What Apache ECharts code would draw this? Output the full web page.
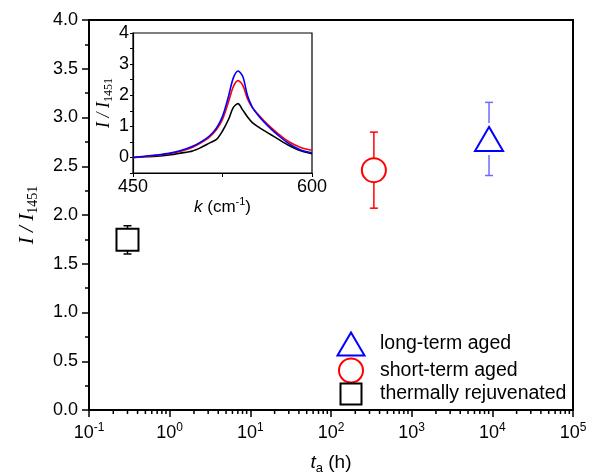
<!DOCTYPE html>
<html>
<head>
<meta charset="utf-8">
<script src="https://cdn.jsdelivr.net/npm/echarts@6/dist/echarts.min.js"></script>
<style>
  html, body { margin: 0; padding: 0; background: #fff; }
  #chart { width: 593px; height: 476px; }
</style>
</head>
<body>
<div id="chart"></div>
<script>
// Peak intensity ratio vs. aging time (main panel)
const seriesNames = ['long-term aged', 'short-term aged', 'thermally rejuvenated'];
const agingTime = [9100, 340, 0.3];          // t_a (h)
const ratioMean = [2.78, 2.46, 1.745];       // I / I_1451
const ratioError = [0.375, 0.39, 0.145];
const seriesColors = ['#0000ff', '#ff0000', '#000000'];
const errorBarColors = ['#6b6bff', '#ff0000', '#000000'];
const markerSymbols = ['triangle', 'circle', 'rect'];
const markerSizes = [[28, 24], 24, 22];
const errorGaps = [16, 12, 11];

const xTickExponents = [-1, 0, 1, 2, 3, 4, 5];
const yTickLabels = ['0.0', '0.5', '1.0', '1.5', '2.0', '2.5', '3.0', '3.5', '4.0'];

// Inset: spectra around the peak
const wavenumber = [450, 460, 470, 480, 490, 500, 507, 514, 520, 525, 530, 534, 538, 542, 546, 550, 555, 560, 566, 572, 580, 590, 600];
const spectrumLong = [0.0, 0.04, 0.08, 0.13, 0.22, 0.36, 0.5, 0.69, 0.95, 1.32, 1.96, 2.55, 2.78, 2.6, 1.98, 1.62, 1.35, 1.13, 0.9, 0.7, 0.46, 0.25, 0.15];
const spectrumShort = [0.0, 0.03, 0.07, 0.12, 0.2, 0.33, 0.47, 0.65, 0.9, 1.22, 1.78, 2.27, 2.47, 2.32, 1.88, 1.6, 1.38, 1.17, 0.95, 0.75, 0.52, 0.33, 0.23];
const spectrumRejuv = [0.0, 0.02, 0.04, 0.08, 0.14, 0.21, 0.32, 0.46, 0.58, 0.85, 1.22, 1.6, 1.73, 1.52, 1.3, 1.12, 0.98, 0.86, 0.72, 0.58, 0.4, 0.22, 0.12];

const sansFont = '"Liberation Sans", Arial, sans-serif';
const serifFont = '"Liberation Serif", "Times New Roman", serif';

// minor tick positions on the log axis: 2..9 x 10^k
const minorLogTicks = [];
for (let e = xTickExponents[0]; e < xTickExponents[xTickExponents.length - 1]; e++) {
  for (let m = 2; m <= 9; m++) minorLogTicks.push([m * Math.pow(10, e), 0]);
}

function errorBarRenderer(gap, color) {
  return function (params, api) {
    const x = api.value(0), y = api.value(1), e = api.value(2);
    const c = api.coord([x, y]);
    const hi = api.coord([x, y + e]);
    const lo = api.coord([x, y - e]);
    const cap = 4;
    const style = { stroke: color, lineWidth: 1.5 };
    return {
      type: 'group',
      children: [
        { type: 'line', shape: { x1: c[0], y1: hi[1], x2: c[0], y2: c[1] - gap }, style: style },
        { type: 'line', shape: { x1: c[0], y1: c[1] + gap, x2: c[0], y2: lo[1] }, style: style },
        { type: 'line', shape: { x1: c[0] - cap, y1: hi[1], x2: c[0] + cap, y2: hi[1] }, style: style },
        { type: 'line', shape: { x1: c[0] - cap, y1: lo[1], x2: c[0] + cap, y2: lo[1] }, style: style }
      ]
    };
  };
}

const series = [];
seriesNames.forEach(function (name, i) {
  series.push({
    name: name + ' error',
    type: 'custom',
    xAxisIndex: 0, yAxisIndex: 0,
    data: [[agingTime[i], ratioMean[i], ratioError[i]]],
    encode: { x: 0, y: 1 },
    renderItem: errorBarRenderer(errorGaps[i], errorBarColors[i]),
    silent: true,
    z: 3
  });
  series.push({
    name: name,
    type: 'scatter',
    xAxisIndex: 0, yAxisIndex: 0,
    data: [[agingTime[i], ratioMean[i]]],
    symbol: markerSymbols[i],
    symbolSize: markerSizes[i],
    symbolKeepAspect: markerSymbols[i] !== 'triangle',
    itemStyle: { color: '#fff', borderColor: seriesColors[i], borderWidth: 2, opacity: 1 },
    z: 4
  });
});

// minor ticks of the log axis
series.push({
  type: 'custom',
  xAxisIndex: 0, yAxisIndex: 0,
  data: minorLogTicks,
  encode: { x: 0, y: 1 },
  clip: false,
  silent: true,
  renderItem: function (params, api) {
    const p = api.coord([api.value(0), 0]);
    return { type: 'line', shape: { x1: p[0], y1: p[1], x2: p[0], y2: p[1] + 4 }, style: { stroke: '#000', lineWidth: 1.5 } };
  }
});

// inset spectra
const insetSpectra = [spectrumRejuv, spectrumShort, spectrumLong];
const insetColors = ['#000000', '#ff0000', '#0000ff'];
insetSpectra.forEach(function (vals, i) {
  series.push({
    type: 'line',
    xAxisIndex: 1, yAxisIndex: 1,
    data: wavenumber.map(function (k, j) { return [k, vals[j]]; }),
    showSymbol: false,
    smooth: 0.3,
    lineStyle: { color: insetColors[i], width: 1.6 },
    silent: true,
    z: 6
  });
});

// one legend block per entry so each icon keeps its own proportions
const legendIconBoxes = [[27, 23], [24, 24], [21, 21]];
const legendRowCenters = [343, 369.5, 393];
const legendIconCenterX = 350;
const legendTextX = 379;
const legends = seriesNames.map(function (name, i) {
  const w = legendIconBoxes[i][0], h = legendIconBoxes[i][1];
  const left = legendIconCenterX - w / 2;
  return {
    orient: 'vertical',
    left: left,
    top: legendRowCenters[i] - h / 2,
    padding: 0,
    itemWidth: w,
    itemHeight: h,
    data: [name],
    selectedMode: false,
    textStyle: {
      fontFamily: sansFont, fontSize: 19.5, lineHeight: h, color: '#000',
      padding: [0, 0, 0, legendTextX - (left + w + 5)]
    }
  };
});

const chart = echarts.init(document.getElementById('chart'), null, { renderer: 'canvas' });
chart.setOption({
  animation: false,
  backgroundColor: '#fff',
  textStyle: { fontFamily: sansFont, color: '#000' },
  grid: [
    { left: 89, top: 20, right: 20, bottom: 66, outerBoundsMode: 'none', containLabel: false,
      show: true, borderColor: '#000', borderWidth: 2, backgroundColor: 'transparent' },
    { left: 133, top: 33, right: 281, bottom: 303, outerBoundsMode: 'none', containLabel: false,
      show: true, borderColor: '#000', borderWidth: 1.2, backgroundColor: '#fff', z: 5 }
  ],
  legend: legends,
  xAxis: [
    {
      type: 'log', gridIndex: 0, logBase: 10,
      min: 0.1, max: 100000, interval: 1,
      axisLine: { show: true, lineStyle: { color: '#000', width: 2 } },
      axisTick: { show: true, length: 7, lineStyle: { color: '#000', width: 1.5 } },
      splitLine: { show: false },
      axisLabel: {
        margin: 12,
        formatter: function (v) {
          const e = Math.round(Math.log10(v));
          return '{b|10}{s|' + e + '}';
        },
        rich: {
          b: { fontFamily: sansFont, fontSize: 18, color: '#000' },
          s: { fontFamily: sansFont, fontSize: 12, color: '#000', padding: [0, 0, 11, 0] }
        }
      },
      name: '{t|t}{a|a}{h| (h)}',
      nameLocation: 'middle',
      nameGap: 41,
      nameTextStyle: {
        rich: {
          t: { fontFamily: sansFont, fontStyle: 'italic', fontSize: 19, color: '#000' },
          a: { fontFamily: sansFont, fontSize: 13, color: '#000', padding: [11, 0, 0, 0] },
          h: { fontFamily: sansFont, fontSize: 19, color: '#000' }
        }
      }
    },
    {
      type: 'value', gridIndex: 1,
      min: 450, max: 600, interval: 75,
      axisLine: { show: true, onZero: false, lineStyle: { color: '#000', width: 1.2 } },
      axisTick: { show: true, length: 4, lineStyle: { color: '#000', width: 1 } },
      splitLine: { show: false },
      axisLabel: {
        margin: 5,
        fontFamily: sansFont, fontSize: 18, color: '#000',
        formatter: function (v) { return (v === 450 || v === 600) ? String(v) : ''; },
        showMinLabel: true, showMaxLabel: true
      },
      name: '{k|k}{u| (cm}{s|-1}{u|)}',
      nameLocation: 'middle',
      nameGap: 17,
      nameTextStyle: {
        rich: {
          k: { fontFamily: sansFont, fontStyle: 'italic', fontSize: 17, color: '#000' },
          u: { fontFamily: sansFont, fontSize: 17, color: '#000' },
          s: { fontFamily: sansFont, fontSize: 11, color: '#000', padding: [0, 0, 9, 0] }
        }
      },
      z: 6
    }
  ],
  yAxis: [
    {
      type: 'value', gridIndex: 0,
      min: 0, max: 4, interval: 0.5,
      axisLine: { show: true, lineStyle: { color: '#000', width: 2 } },
      axisTick: { show: true, length: 7, lineStyle: { color: '#000', width: 1.5 } },
      minorTick: { show: true, splitNumber: 2, length: 4, lineStyle: { color: '#000', width: 1.5 } },
      splitLine: { show: false },
      axisLabel: {
        margin: 11, fontFamily: sansFont, fontSize: 18, color: '#000',
        formatter: function (v) { return yTickLabels[Math.round(v * 2)]; }
      },
      name: '{i|I / I}{s|1451}',
      nameLocation: 'middle',
      nameGap: 49,
      nameRotate: 90,
      nameTextStyle: {
        rich: {
          i: { fontFamily: serifFont, fontStyle: 'italic', fontSize: 21, color: '#000' },
          s: { fontFamily: serifFont, fontSize: 14, color: '#000', padding: [11, 0, 0, 0] }
        }
      }
    },
    {
      type: 'value', gridIndex: 1,
      min: -0.5, max: 4, interval: 0.5,
      axisLine: { show: true, onZero: false, lineStyle: { color: '#000', width: 1.2 } },
      axisTick: { show: true, length: 3, lineStyle: { color: '#000', width: 1 } },
      splitLine: { show: false },
      axisLabel: {
        margin: 4, fontFamily: sansFont, fontSize: 18, color: '#000',
        formatter: function (v) { return Number.isInteger(v) ? String(v) : ''; }
      },
      name: '{i|I / I}{s|1451}',
      nameLocation: 'middle',
      nameGap: 13,
      nameRotate: 90,
      nameTextStyle: {
        rich: {
          i: { fontFamily: serifFont, fontStyle: 'italic', fontSize: 18, color: '#000' },
          s: { fontFamily: serifFont, fontSize: 12, color: '#000', padding: [10, 0, 0, 0] }
        }
      },
      z: 6
    }
  ],
  series: series
});
</script>
</body>
</html>
